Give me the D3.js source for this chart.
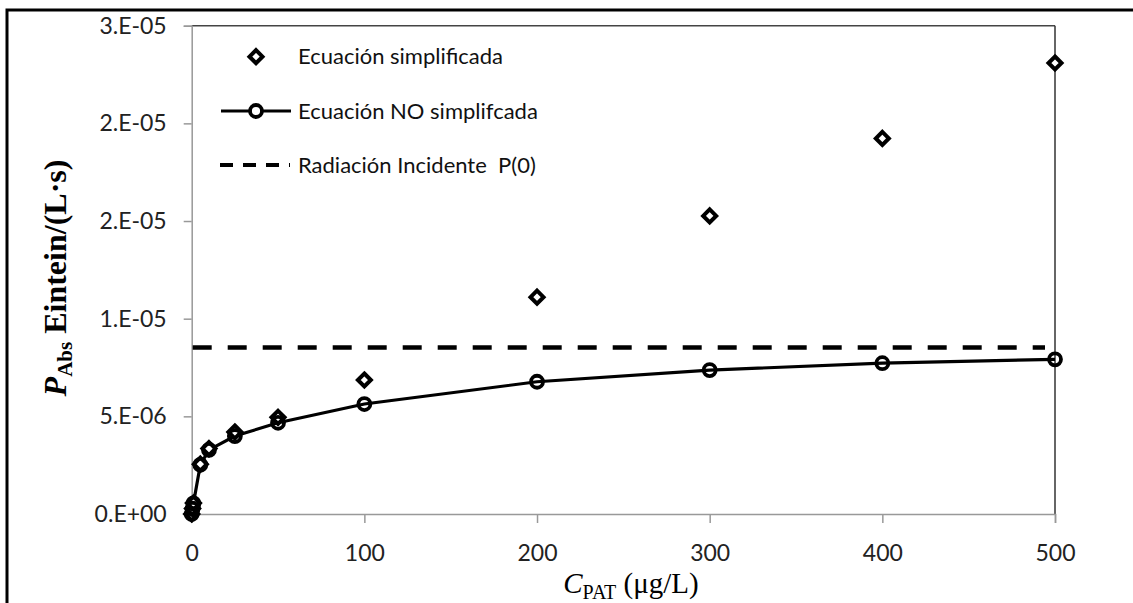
<!DOCTYPE html>
<html>
<head>
<meta charset="utf-8">
<script src="https://cdn.jsdelivr.net/npm/d3@7"></script>
<style>
  body { margin:0; background:#fff; }
  .tick text { font-family: Lato, "Open Sans", sans-serif; font-size:23px; fill:#222; }
</style>
</head>
<body>
<div id="chart"></div>
<script>
// data
let concentration = [0, 0.5, 1, 5, 10, 25, 50, 100, 200, 300, 400, 500];
let simplificada = [0, 2.8e-7, 5.6e-7, 2.55e-6, 3.35e-6, 4.2e-6, 4.95e-6, 6.86e-6, 1.11e-5, 1.526e-5, 1.923e-5, 2.309e-5];
let noSimplificada = [0, 2.7e-7, 5.4e-7, 2.52e-6, 3.28e-6, 3.99e-6, 4.67e-6, 5.63e-6, 6.77e-6, 7.37e-6, 7.72e-6, 7.92e-6];
let incidente = 8.53e-6;
let xTicks = [0, 100, 200, 300, 400, 500];
let yTicks = [0, 5e-6, 1e-5, 1.5e-5, 2e-5, 2.5e-5];
let yTickLabels = ["0.E+00", "5.E-06", "1.E-05", "2.E-05", "2.E-05", "3.E-05"];
let legendLabels = ["Ecuación simplificada", "Ecuación NO simplifcada", "Radiación Incidente  P(0)"];

let screen = {width:1133, height:603};
let margin = {top:25.7, right:78, bottom:89, left:191.7};

let svg = d3.select("#chart")
    .append("svg")
    .attr("width", screen.width)
    .attr("height", screen.height);

// outer frame (only top & left visible in the crop)
svg.append("rect")
    .attr("x", 7).attr("y", 10)
    .attr("width", 1200).attr("height", 700)
    .attr("fill", "none").attr("stroke", "#000").attr("stroke-width", 3);

let xScale = d3.scaleLinear()
    .domain([0, 500])
    .range([margin.left, screen.width - margin.right]);
let yScale = d3.scaleLinear()
    .domain([0, 2.5e-5])
    .range([screen.height - margin.bottom, margin.top]);

// plot frame top / right
svg.append("line")
    .attr("x1", xScale(0)).attr("x2", xScale(500))
    .attr("y1", yScale(2.5e-5)).attr("y2", yScale(2.5e-5))
    .attr("stroke", "#444").attr("stroke-width", 1.5);
svg.append("line")
    .attr("x1", xScale(500)).attr("x2", xScale(500))
    .attr("y1", yScale(2.5e-5)).attr("y2", yScale(0))
    .attr("stroke", "#333").attr("stroke-width", 1.5);

let xAxis = svg.append("g")
    .attr("transform", "translate(0," + yScale(0) + ")")
    .call(d3.axisBottom(xScale).tickValues(xTicks).tickSize(9).tickPadding(22).tickFormat(d3.format("d")));
let yAxis = svg.append("g")
    .attr("transform", "translate(" + xScale(0) + ",0)")
    .call(d3.axisLeft(yScale).tickValues(yTicks).tickSize(8).tickPadding(17)
        .tickFormat(function(d, i) { return yTickLabels[i]; }));
[xAxis, yAxis].forEach(function(a) {
    a.select(".domain").attr("stroke", "#999").attr("stroke-width", 1.5);
    a.selectAll(".tick line").attr("stroke", "#999").attr("stroke-width", 1.5);
});

// incident radiation
svg.append("line")
    .attr("x1", xScale(0) + 1).attr("x2", xScale(500) - 10)
    .attr("y1", yScale(incidente)).attr("y2", yScale(incidente))
    .attr("stroke", "#000").attr("stroke-width", 4.5)
    .attr("stroke-dasharray", "19,16");

// non simplified curve
let pts = concentration.map(function(c, i) { return [c, noSimplificada[i]]; });
svg.append("path")
    .datum(pts)
    .attr("fill", "none").attr("stroke", "#000").attr("stroke-width", 3.2)
    .attr("d", d3.line().x(function(d) { return xScale(d[0]); }).y(function(d) { return yScale(d[1]); }));

let diamond = function(g, x, y) {
    g.append("path")
        .attr("d", "M" + x + "," + (y - 6.5) + "L" + (x + 6.5) + "," + y + "L" + x + "," + (y + 6.5) + "L" + (x - 6.5) + "," + y + "Z")
        .attr("fill", "#fff").attr("stroke", "#000").attr("stroke-width", 4);
};

let marks = svg.append("g");
concentration.forEach(function(c, i) {
    diamond(marks, xScale(c), yScale(simplificada[i]));
});
marks.selectAll("circle")
    .data(pts)
    .enter()
    .append("circle")
    .attr("cx", function(d) { return xScale(d[0]); })
    .attr("cy", function(d) { return yScale(d[1]); })
    .attr("r", 6)
    .attr("fill", "none").attr("stroke", "#000").attr("stroke-width", 3.8);

// legend
let legend = svg.append("g");
let lx = 256, ly = [56.7, 111, 165];
diamond(legend, lx, ly[0]);
legend.append("line").attr("x1", 221).attr("x2", 291).attr("y1", ly[1]).attr("y2", ly[1])
    .attr("stroke", "#000").attr("stroke-width", 3.2);
legend.append("circle").attr("cx", lx).attr("cy", ly[1]).attr("r", 6)
    .attr("fill", "#fff").attr("stroke", "#000").attr("stroke-width", 3.8);
legend.append("line").attr("x1", 220).attr("x2", 290).attr("y1", ly[2]).attr("y2", ly[2])
    .attr("stroke", "#000").attr("stroke-width", 4).attr("stroke-dasharray", "13,10");
legend.selectAll("text.leg")
    .data(legendLabels)
    .enter()
    .append("text")
    .attr("class", "leg")
    .attr("x", 298)
    .attr("y", function(d, i) { return ly[i]; })
    .attr("dy", "0.35em")
    .attr("font-family", "Lato, 'Open Sans', sans-serif")
    .attr("font-size", 22)
    .attr("fill", "#111")
    .attr("xml:space", "preserve")
    .text(function(d) { return d; });

// axis titles
let yt = svg.append("text")
    .attr("transform", "translate(66,278) rotate(-90)")
    .attr("text-anchor", "middle")
    .attr("font-family", "'Liberation Serif', 'Times New Roman', serif")
    .attr("font-weight", "bold")
    .attr("font-size", 32)
    .attr("fill", "#000");
yt.append("tspan").attr("font-style", "italic").text("P");
yt.append("tspan").attr("font-size", 21).attr("dy", 6).text("Abs");
yt.append("tspan").attr("dy", -6).text(" Eintein/(L·s)");

let xt = svg.append("text")
    .attr("x", 631).attr("y", 593)
    .attr("text-anchor", "middle")
    .attr("font-family", "'Liberation Serif', 'Times New Roman', serif")
    .attr("font-size", 29)
    .attr("fill", "#000");
xt.append("tspan").attr("font-style", "italic").text("C");
xt.append("tspan").attr("font-size", 20).attr("dy", 6).text("PAT");
xt.append("tspan").attr("dy", -6).text(" (μg/L)");
</script>
</body>
</html>
